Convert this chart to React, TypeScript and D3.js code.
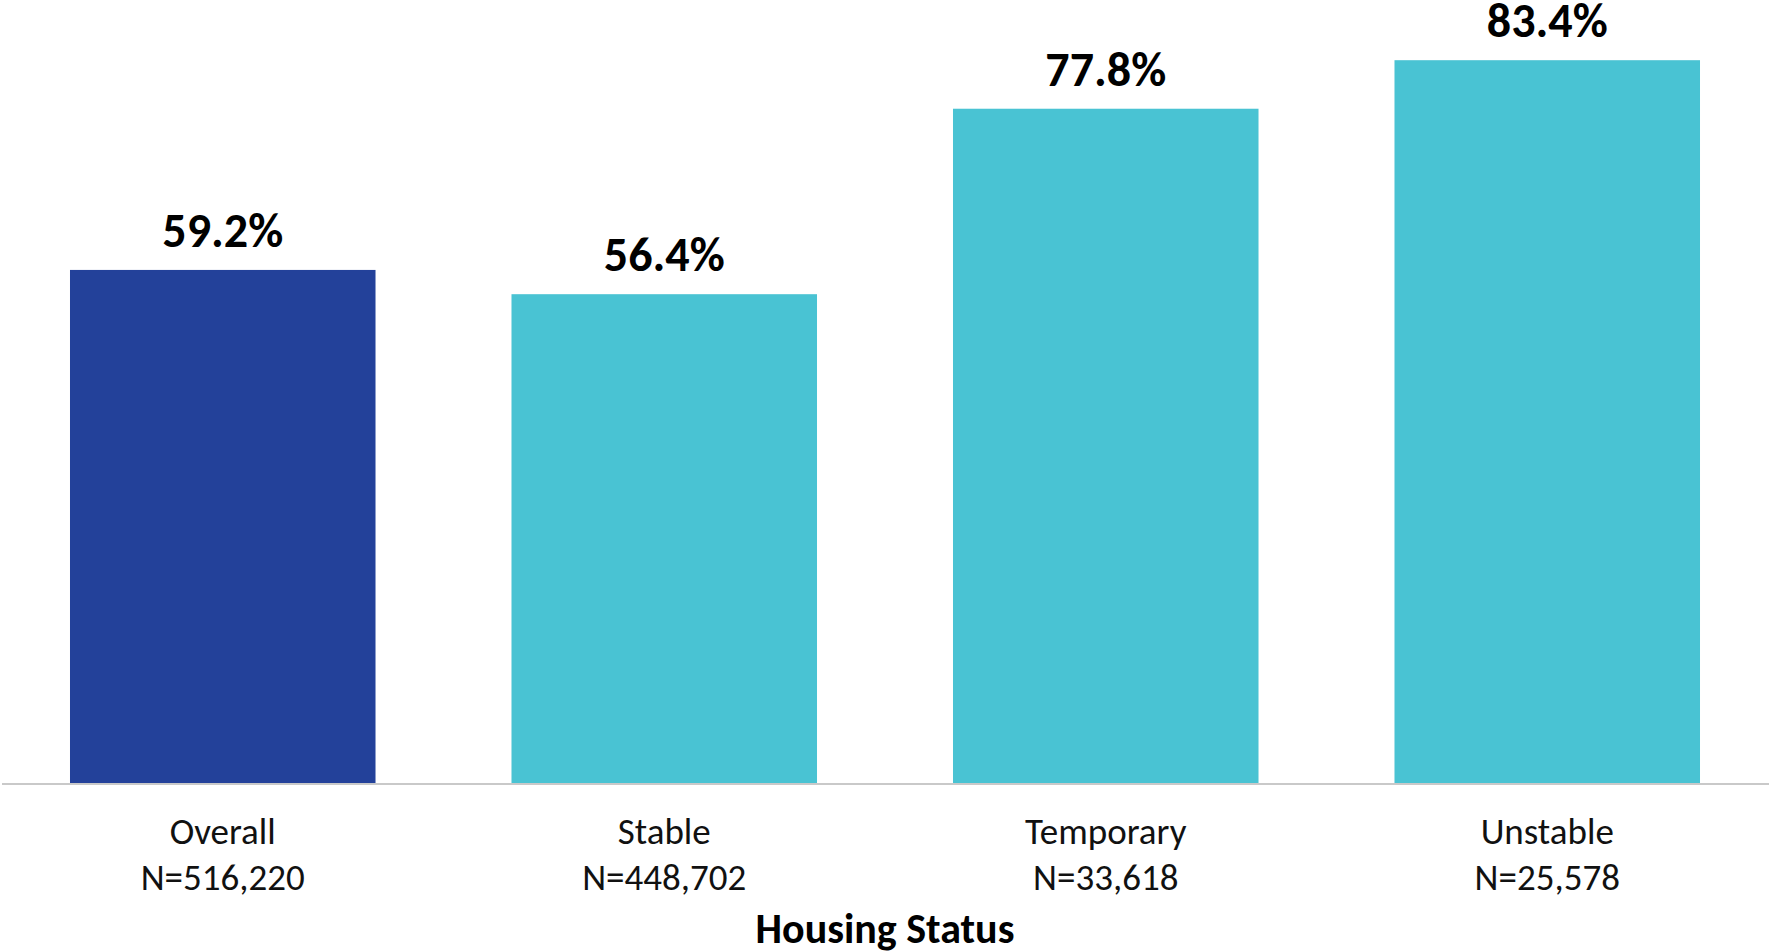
import React, { useEffect } from 'react';
import * as d3 from 'd3';

const categories = ['Overall', 'Stable', 'Temporary', 'Unstable'];
const counts = ['N=516,220', 'N=448,702', 'N=33,618', 'N=25,578'];
const values = [59.2, 56.4, 77.8, 83.4];
const barColors = ['#23419a', '#49c3d3', '#49c3d3', '#49c3d3'];
const axisTitle = 'Housing Status';

const W = 1769;
const H = 951;
const FONT = "Carlito, Calibri, Lato, 'Open Sans', sans-serif";

export default function App() {
  useEffect(() => {
    document.body.style.margin = '0';
  }, []);

  const baseline = 783;
  const x = d3
    .scaleBand<string>()
    .domain(categories)
    .range([2, 1768])
    .paddingInner(0.308)
    .paddingOuter(0.154);
  const y = d3.scaleLinear().domain([0, 90]).range([baseline, 3]);

  return (
    <svg width={W} height={H} style={{ display: 'block', background: '#fff' }}>
      {categories.map((c, i) => (
        <rect
          key={c}
          x={x(c)}
          y={y(values[i])}
          width={x.bandwidth()}
          height={y(0) - y(values[i])}
          fill={barColors[i]}
        />
      ))}
      <line x1={2} x2={W} y1={baseline + 1} y2={baseline + 1} stroke="#c9c9c9" strokeWidth={2} />
      {categories.map((c, i) => (
        <text
          key={'v' + c}
          x={(x(c) ?? 0) + x.bandwidth() / 2}
          y={y(values[i]) - 23}
          textAnchor="middle"
          fontFamily={FONT}
          fontWeight="bold"
          fontSize={48}
          fill="#000"
        >
          {values[i].toFixed(1)}%
        </text>
      ))}
      {categories.map((c, i) => (
        <g key={'l' + c} fontFamily={FONT} fontSize={37} fill="#111" textAnchor="middle">
          <text x={(x(c) ?? 0) + x.bandwidth() / 2} y={844}>{c}</text>
          <text x={(x(c) ?? 0) + x.bandwidth() / 2} y={890}>{counts[i]}</text>
        </g>
      ))}
      <text
        x={(2 + 1768) / 2}
        y={943}
        textAnchor="middle"
        fontFamily={FONT}
        fontWeight="bold"
        fontSize={42}
        fill="#000"
      >
        {axisTitle}
      </text>
    </svg>
  );
}
